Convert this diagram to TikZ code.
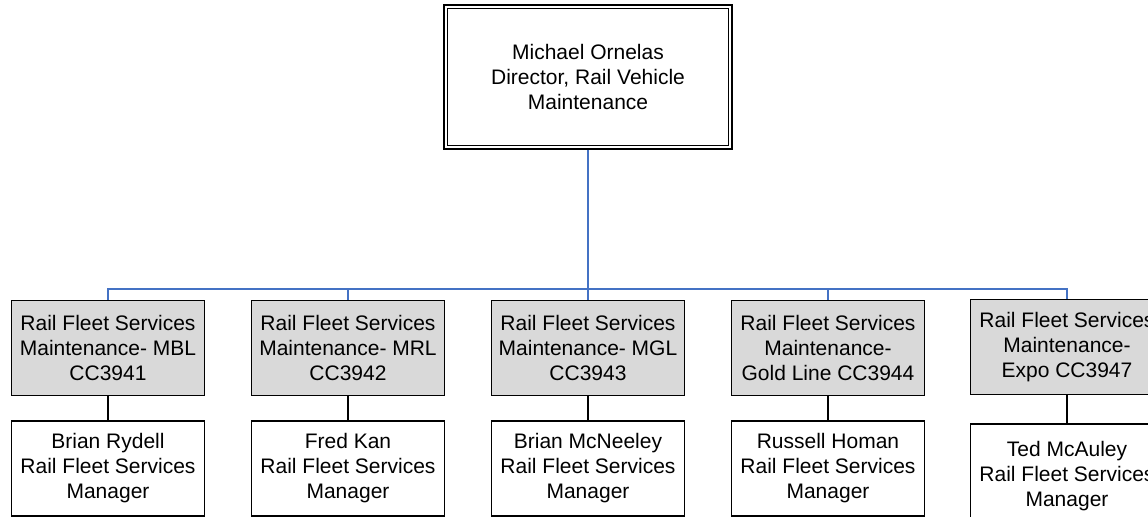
\documentclass[tikz,border=0pt]{standalone}
\usepackage{fontspec}
\setmainfont{Liberation Sans}
\usetikzlibrary{positioning, calc}
\definecolor{busblue}{HTML}{4472C4}
\definecolor{unitgray}{HTML}{D9D9D9}

\begin{document}
\begin{tikzpicture}[
  x=0.5pt, y=0.5pt,
  node distance=12pt,
  every node/.style={font=\fontsize{10.5}{12.5}\selectfont},
  topbox/.style={draw, line width=1.2pt, minimum width=144pt, minimum height=72pt, align=center},
  unitbox/.style={draw, fill=unitgray, line width=0.75pt, minimum width=96.5pt, minimum height=47.5pt, align=center, inner sep=1pt},
  mgrbox/.style={draw, fill=white, line width=0.75pt, minimum width=96.5pt, minimum height=47.5pt, align=center, inner sep=1pt},
  bus/.style={busblue, line width=0.9pt},
  link/.style={black, line width=0.75pt},
]
\useasboundingbox (0,0) rectangle (1148,-517);

% Director
\node[topbox] (dir) at (588,-77) {Michael Ornelas\\Director, Rail Vehicle\\Maintenance};
\draw[line width=0.6pt] ([shift={(2.5pt,-2.5pt)}]dir.north west) rectangle ([shift={(-2.5pt,2.5pt)}]dir.south east);

% Maintenance units
\node[unitbox] (u1) at (108,-348) {Rail Fleet Services\\Maintenance- MBL\\CC3941};
\node[unitbox] (u2) at (348,-348) {Rail Fleet Services\\Maintenance- MRL\\CC3942};
\node[unitbox] (u3) at (588,-348) {Rail Fleet Services\\Maintenance- MGL\\CC3943};
\node[unitbox] (u4) at (828,-348) {Rail Fleet Services\\Maintenance-\\Gold Line CC3944};
\node[unitbox] (u5) at (1067,-347) {Rail Fleet Services\\Maintenance-\\Expo CC3947};

% Managers
\node[mgrbox, below=of u1] (m1) {Brian Rydell\\ Rail Fleet Services\\Manager};
\node[mgrbox, below=of u2] (m2) {Fred Kan\\ Rail Fleet Services\\Manager};
\node[mgrbox, below=of u3] (m3) {Brian McNeeley\\Rail Fleet Services\\Manager};
\node[mgrbox, below=of u4] (m4) {Russell Homan\\Rail Fleet Services\\Manager};
\node[mgrbox, below=14pt of u5, minimum height=52pt] (m5) {Ted McAuley\\Rail Fleet Services\\Manager};

% Connectors
\coordinate (bus) at (588,-289);
\draw[bus] (dir) -- (bus);
\foreach \i in {1,...,5} \draw[bus] (bus) -| (u\i);
\foreach \i in {1,...,5} \draw[link] (u\i) -- (m\i);

\end{tikzpicture}
\end{document}
